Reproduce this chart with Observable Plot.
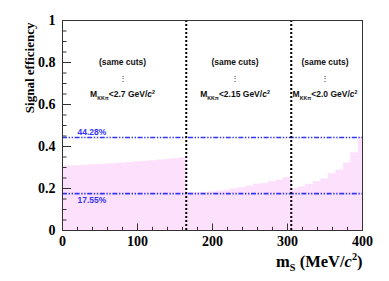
<!DOCTYPE html>
<html><head><meta charset="utf-8">
<script src="https://cdn.jsdelivr.net/npm/d3@7"></script>
<script src="https://cdn.jsdelivr.net/npm/@observablehq/plot@0.6"></script>
<style>body{margin:0;background:#fff} svg{display:block}</style>
</head><body><div id="chart"></div>
<script>
// ---- data ----
const massCenters = [0,10,20,30,40,50,60,70,80,90,100,110,120,130,140,150,160,
  170,180,190,200,210,220,230,240,250,260,270,280,290,300,
  310,320,330,340,350,360,370,380,390,400];
const efficiency = [0.305,0.306,0.307,0.309,0.311,0.313,0.315,0.317,0.319,0.322,0.325,0.328,0.331,0.334,0.337,0.340,0.344,
  0.178,0.179,0.180,0.182,0.186,0.190,0.198,0.203,0.210,0.219,0.222,0.232,0.238,0.251,
  0.198,0.206,0.219,0.232,0.244,0.270,0.286,0.320,0.368,0.441];
const binHalfWidth = 5;
const cutBoundaries = [165, 305];
const refLevels = [0.4428, 0.1755];
const refLabels = ["44.28%", "17.55%"];
const refLabelY = [0.469, 0.143];
const regionCenters = [80, 230, 350];
const sameCutsText = ["(same cuts)", "(same cuts)", "(same cuts)"];
const cutLabels = ["M_{KKπ}<2.7 GeV/*c*^{2}", "M_{KKπ}<2.15 GeV/*c*^{2}", "M_{KKπ}<2.0 GeV/*c*^{2}"];
const xTicks = [0,100,200,300,400];
const yTicks = [0,0.2,0.4,0.6,0.8,1];
const yTickLabels = ["0","0.2","0.4","0.6","0.8","1"];
const xTitle = "m_{S} (MeV/*c*^{2})";
const yTitle = "Signal efficiency";

const hist = massCenters.map((c,i) => ({
  x1: Math.max(0, c - binHalfWidth), x2: Math.min(400, c + binHalfWidth), y: efficiency[i]
}));
const xMinor = d3.range(0, 401, 20).filter(v => v % 100 !== 0);
const yMinor = d3.range(0, 1.0001, 0.05).map(v => +v.toFixed(2)).filter(v => Math.abs(v*5 - Math.round(v*5)) > 1e-6);

const serif = "Liberation Serif, Times New Roman, serif";
const sans = "Liberation Sans, Arial, Helvetica, sans-serif";
const blue = "#3434f5";

const chart = Plot.plot({
  width: 389, height: 281,
  marginLeft: 62, marginRight: 27, marginTop: 20, marginBottom: 51,
  style: {fontFamily: serif, fontWeight: "bold", fontSize: "14px", color: "#000", background: "#fff"},
  x: {domain: [0, 400]},
  y: {domain: [0, 1]},
  marks: [
    Plot.rectY(hist, {x1: "x1", x2: "x2", y: "y", fill: "#fde0fb", stroke: "#fde0fb", strokeWidth: 0.6}),
    Plot.ruleY(refLevels, {stroke: blue, strokeWidth: 1.6, strokeDasharray: "5,1.6,1.4,1.6,1.4,1.6"}),
    Plot.text(refLabels, {x: () => 20, y: (d,i) => refLabelY[i], text: d => d, textAnchor: "start",
      fill: blue, fontFamily: sans, fontSize: 8.5, fontWeight: "bold"}),
    Plot.ruleX(cutBoundaries, {stroke: "#000", strokeWidth: 2, strokeDasharray: "2,2"}),
    Plot.text(sameCutsText, {x: (d,i) => regionCenters[i], y: () => 0.8, text: d => d,
      fontFamily: sans, fontSize: 8.5, fontWeight: "bold", fill: "#111"}),
    Plot.text(sameCutsText, {x: (d,i) => regionCenters[i], y: () => 0.725, text: () => "⋮",
      fontFamily: sans, fontSize: 8, fontWeight: "normal", fill: "#111"}),
    Plot.text(cutLabels, {x: (d,i) => regionCenters[i], y: () => 0.648, text: d => d,
      fontFamily: sans, fontSize: 8.5, fontWeight: "bold", fill: "#111", className: "rich"}),
    // inward ticks
    Plot.ruleX(xTicks, {y1: 0, y2: 0.031, stroke: "#333"}),
    Plot.ruleX(xMinor, {y1: 0, y2: 0.015, stroke: "#333"}),
    Plot.ruleY(yTicks, {x1: 0, x2: 12, stroke: "#333"}),
    Plot.ruleY(yMinor, {x1: 0, x2: 6, stroke: "#333"}),
    Plot.axisX(xTicks, {tickSize: 0, tickPadding: 6, label: null, fontSize: 14, fontFamily: serif, fontWeight: "bold"}),
    Plot.axisY(yTicks, {tickSize: 0, tickPadding: 7, label: null, tickFormat: (d) => yTickLabels[yTicks.indexOf(d)], fontSize: 14, fontFamily: serif, fontWeight: "bold"}),
    Plot.text([yTitle], {frameAnchor: "top-left", dx: -38, dy: 2, rotate: -90, textAnchor: "end", text: d => d,
      fontFamily: serif, fontSize: 13, fontWeight: "bold"}),
    Plot.text([xTitle], {frameAnchor: "bottom-right", dy: 36, textAnchor: "end", text: d => d,
      fontFamily: serif, fontSize: 16.5, fontWeight: "bold", className: "rich"}),
    Plot.frame({stroke: "#333", strokeWidth: 1})
  ]
});
document.getElementById("chart").appendChild(chart);

// rich text: _{sub}, ^{sup}, *italic*
const NS = "http://www.w3.org/2000/svg";
chart.querySelectorAll(".rich text").forEach(el => {
  const str = el.textContent;
  const fs = parseFloat(el.getAttribute("font-size") || el.parentNode.getAttribute("font-size") || 10);
  el.textContent = "";
  const parts = str.split(/(_\{[^}]*\}|\^\{[^}]*\}|\*[^*]*\*)/).filter(s => s !== "");
  let pending = 0;
  for (const p of parts) {
    const t = document.createElementNS(NS, "tspan");
    let shift = 0;
    if (p.startsWith("_{")) { t.textContent = p.slice(2, -1); t.setAttribute("font-size", fs * 0.62); shift = fs * 0.28; }
    else if (p.startsWith("^{")) { t.textContent = p.slice(2, -1); t.setAttribute("font-size", fs * 0.62); shift = -fs * 0.42; }
    else if (p.startsWith("*")) { t.textContent = p.slice(1, -1); t.setAttribute("font-style", "italic"); }
    else { t.textContent = p; }
    const dy = pending + shift;
    if (dy !== 0) t.setAttribute("dy", dy);
    pending = -shift;
    el.appendChild(t);
  }
});
</script>
</body></html>
